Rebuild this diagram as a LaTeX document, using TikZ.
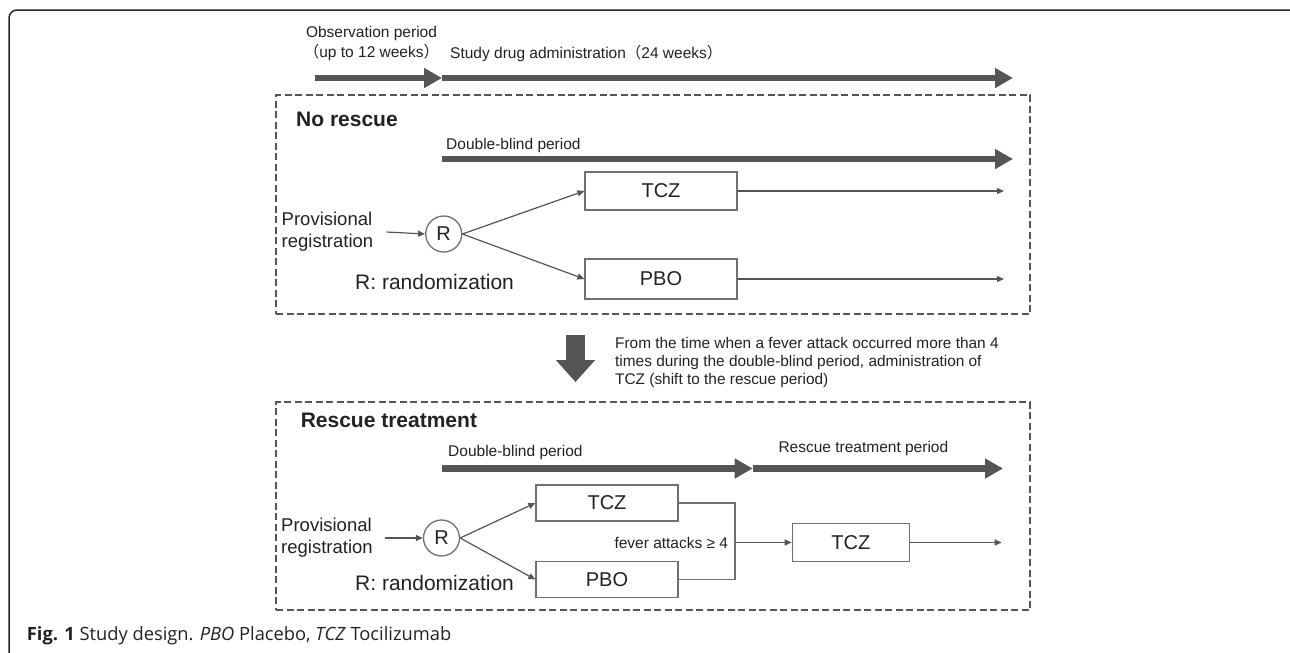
\documentclass[tikz,border=0pt]{standalone}
\usepackage{fontspec}
\setmainfont{Liberation Sans}
\newfontfamily\capfont{Open Sans}
\newfontfamily\cjk{Noto Sans CJK SC}
\usetikzlibrary{arrows.meta}
\definecolor{arr}{HTML}{555555}
\definecolor{bx}{HTML}{707070}
\definecolor{txt}{HTML}{222222}
\begin{document}
\begin{tikzpicture}[x=1pt,y=-1pt,
  fat/.style={draw=arr, line width=6.5pt, -{Triangle[length=18pt,width=19pt]}},
  thinarr/.style={draw=arr, line width=1.2pt, -{Triangle[length=7pt,width=6pt]}},
  thinline/.style={draw=bx, line width=1.3pt},
  dbox/.style={draw=arr, line width=2.3pt, dash pattern=on 7pt off 3.5pt, anchor=north west, inner sep=0pt},
  armbox/.style={draw=bx, line width=1.3pt, inner sep=0pt, text=txt, font=\fontsize{20}{24}\selectfont},
  rnode/.style={circle, draw=bx, line width=1.3pt, minimum size=36pt, inner sep=0pt, text=txt, font=\fontsize{20}{24}\selectfont},
  lbl/.style={font=\fontsize{15.5}{20}\selectfont, text=txt, inner sep=0pt},
  prov/.style={font=\fontsize{18.5}{22}\selectfont, text=txt, inner sep=0pt, align=left},
  big/.style={font=\fontsize{21}{25}\selectfont, text=txt, inner sep=0pt},
  head/.style={font=\fontsize{21}{25}\selectfont\bfseries, text=txt, inner sep=0pt}]
\useasboundingbox (0,0) rectangle (1290,653);
\fill[white] (0,0) rectangle (1290,653);
\draw[line width=1.5pt, black!85, rounded corners=8pt] (9,10) rectangle (1297,660);

% top timeline
\node[lbl, align=center] (obs) at (371.5,43.3) {Observation period\\{\cjk （}up to 12 weeks{\cjk ）}};
\node[lbl, anchor=west] (study) at (450,53.3) {Study drug administration{\cjk （}24 weeks{\cjk ）}};
\coordinate (t0) at (315,78);
\coordinate (t1) at (442,78);
\coordinate (t2) at (1013,78);
\draw[fat] (t0) -- (t1);
\draw[fat] (t1) -- (t2);

% panel 1
\node[dbox, minimum width=754pt, minimum height=219pt] (box1) at (275,94) {};
\node[head, anchor=west] (norescue) at (296,119) {No rescue};
\node[lbl, anchor=west] (db1) at (446,145) {Double-blind period};
\coordinate (d1a) at (442,159);
\coordinate (d1b) at (1013,159);
\draw[fat] (d1a) -- (d1b);
\node[armbox, minimum width=152pt, minimum height=38pt] (tcz1) at (661,191) {TCZ};
\node[armbox, minimum width=152pt, minimum height=40pt] (pbo1) at (661,279) {PBO};
\node[rnode] (r1) at (443.7,234) {R};
\node[prov] (prov1) at (327.5,232) {Provisional\\registration};
\draw[thinarr] ([xshift=13pt]prov1.east) -- (r1.west);
\draw[thinarr] (r1.east) -- (tcz1.west);
\draw[thinarr] (r1.east) -- (pbo1.west);
\coordinate (e1) at (1004,191);
\coordinate (e2) at (1004,279);
\draw[thinarr] (tcz1.east) -- (e1);
\draw[thinarr] (pbo1.east) -- (e2);
\node[big, anchor=west] (rand1) at (355,282) {R: randomization};

% transition
\coordinate (da) at (575.5,335);
\coordinate (db) at (575.5,382);
\draw[draw=arr, line width=19pt, -{Triangle[length=22pt,width=38pt]}] (da) -- (db);
\node[lbl, anchor=north west, align=left, font=\fontsize{15.4}{17.6}\selectfont] (note) at (615,337.5)
  {From the time when a fever attack occurred more than 4\\times during the double-blind period, administration of\\TCZ (shift to the rescue period)};

% panel 2
\node[dbox, minimum width=754pt, minimum height=208pt] (box2) at (275,401) {};
\node[head, anchor=west] (rescue) at (300.6,420) {Rescue treatment};
\node[lbl, anchor=west] (db2) at (448,452) {Double-blind period};
\node[lbl, anchor=west] (rtp) at (778.3,448) {Rescue treatment period};
\coordinate (d2a) at (442,468.5);
\coordinate (d2b) at (752.7,468.5);
\coordinate (d2c) at (1003,468.5);
\draw[fat] (d2a) -- (d2b);
\draw[fat] (d2b) -- (d2c);
\node[armbox, minimum width=142pt, minimum height=36pt] (tcz2) at (607,503) {TCZ};
\node[armbox, minimum width=142pt, minimum height=36pt] (pbo2) at (607,579.5) {PBO};
\node[rnode] (r2) at (441.5,538) {R};
\node[prov] (prov2) at (327,538) {Provisional\\registration};
\draw[thinarr] ([xshift=12pt]prov2.east) -- (r2.west);
\draw[thinarr] (r2.east) -- (tcz2.west);
\draw[thinarr] (r2.east) -- (pbo2.west);
\coordinate (brk) at (735,542.5);
\draw[thinline] (tcz2.east) -| (brk) |- (pbo2.east);
\node[armbox, minimum width=117pt, minimum height=38.5pt] (tcz3) at (850.8,542.5) {TCZ};
\draw[thinarr] (brk) -- (tcz3.west);
\coordinate (e3) at (1001.7,542.5);
\draw[thinarr] (tcz3.east) -- (e3);
\node[lbl, anchor=east] (fever) at (728.3,542.5) {fever attacks ≥ 4};
\node[big, anchor=west] (rand2) at (355,583) {R: randomization};

% caption
\node[anchor=west, inner sep=0pt, font=\capfont\fontsize{18.3}{22}\selectfont, text=txt] (cap) at (26.7,636)
  {\textbf{Fig. 1} Study design. \textit{PBO} Placebo, \textit{TCZ} Tocilizumab};
\end{tikzpicture}
\end{document}
